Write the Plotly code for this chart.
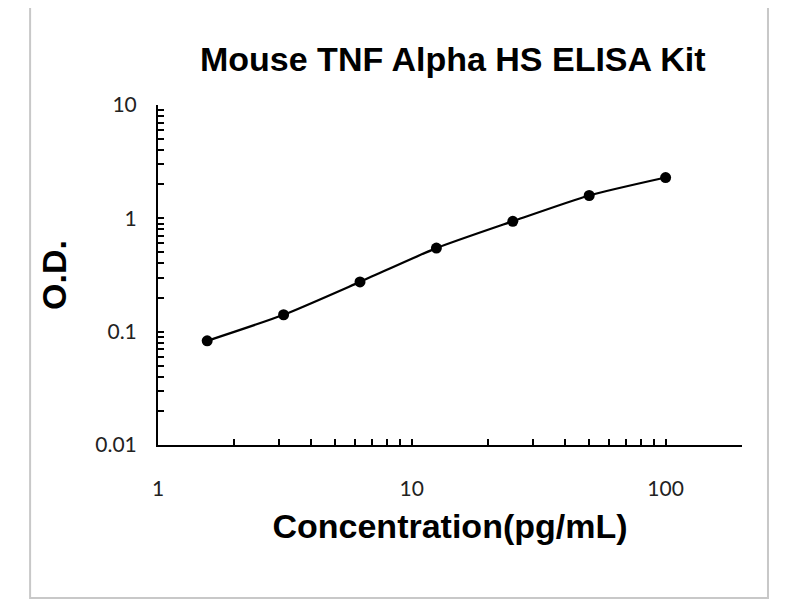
import plotly.graph_objects as go

# standard curve
conc = [1.5625, 3.125, 6.25, 12.5, 25, 50, 100]
od = [0.083, 0.141, 0.275, 0.546, 0.942, 1.59, 2.29]

x_ticks = [1, 2, 3, 4, 5, 6, 7, 8, 9, 10, 20, 30, 40, 50, 60, 70, 80, 90, 100, 200]
x_labels = ["1", "", "", "", "", "", "", "", "", "10", "", "", "", "", "", "", "", "", "100", ""]
y_ticks = [0.01, 0.02, 0.03, 0.04, 0.05, 0.06, 0.07, 0.08, 0.09,
           0.1, 0.2, 0.3, 0.4, 0.5, 0.6, 0.7, 0.8, 0.9,
           1, 2, 3, 4, 5, 6, 7, 8, 9, 10]
y_labels = ["0.01"] + [""] * 8 + ["0.1"] + [""] * 8 + ["1"] + [""] * 8 + ["10"]

fig = go.Figure()
fig.add_trace(go.Scatter(
    x=conc, y=od,
    mode="lines+markers",
    line=dict(color="black", width=2.2, shape="spline", smoothing=0.6),
    marker=dict(color="black", size=11),
    showlegend=False,
))

tick_font = dict(family="Lato, Liberation Sans, sans-serif", size=21, color="#222")
title_font = dict(family="Liberation Sans, Arial, sans-serif", size=34, color="black")

# the page sits 8px in from the window corner, margins allow for it
fig.update_layout(
    width=800, height=600,
    paper_bgcolor="white", plot_bgcolor="white",
    margin=dict(l=150, r=66, t=97, b=163),
    title=dict(text="<b>Mouse TNF Alpha HS ELISA Kit</b>", x=0.556, xanchor="center",
               y=0.915, yanchor="middle", font=title_font),
    xaxis=dict(
        type="log", range=[0, 2.30103],
        tickmode="array", tickvals=x_ticks, ticktext=x_labels,
        ticks="inside", ticklen=6, tickwidth=2, tickcolor="black",
        showline=True, linecolor="black", linewidth=2,
        showgrid=False, zeroline=False,
        tickfont=tick_font, ticklabelstandoff=24,
        title=dict(text="<b>Concentration(pg/mL)</b>", font=title_font, standoff=15),
    ),
    yaxis=dict(
        type="log", range=[-2, 1],
        tickmode="array", tickvals=y_ticks, ticktext=y_labels,
        ticks="inside", ticklen=6, tickwidth=2, tickcolor="black",
        showline=True, linecolor="black", linewidth=2,
        showgrid=False, zeroline=False,
        tickfont=tick_font, ticklabelstandoff=15,
        title=dict(text="<b>O.D.</b>", font=title_font, standoff=18),
    ),
    shapes=[dict(type="rect", xref="paper", yref="paper",
                 x0=-0.219, x1=1.0445, y0=-0.45, y1=1.306,
                 line=dict(color="#c8c8c8", width=2))],
)

fig.write_html("out.html")
